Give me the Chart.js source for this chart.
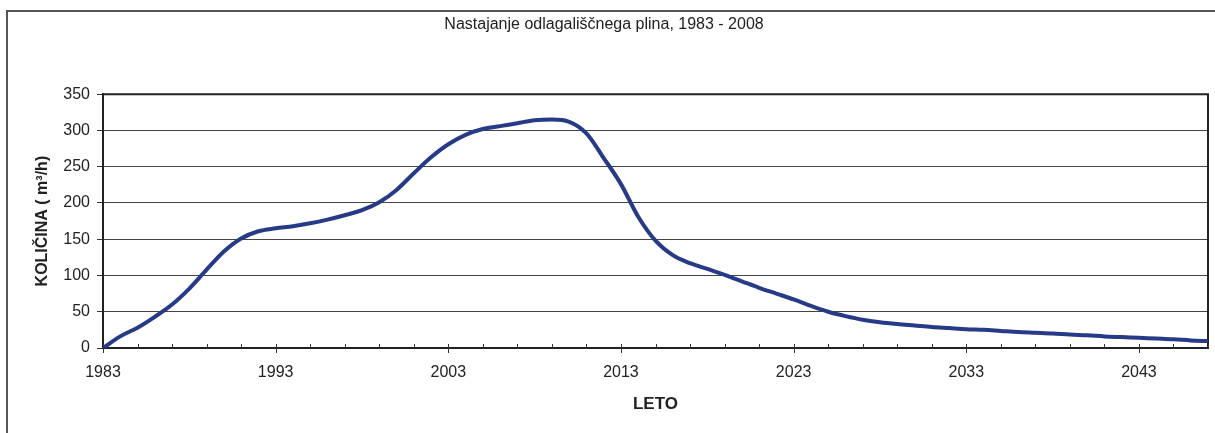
<!DOCTYPE html>
<html>
<head>
<meta charset="utf-8">
<script src="https://cdn.jsdelivr.net/npm/chart.js@4.4.0/dist/chart.umd.min.js"></script>
<style>
  html, body { margin: 0; padding: 0; background: #fff; }
  #wrap { position: relative; width: 1215px; height: 433px; overflow: hidden; }
  #frame { position: absolute; left: 6px; top: 10px; width: 1300px; height: 500px;
           border-left: 2px solid #555; border-top: 2px solid #555; }
  canvas { position: absolute; left: 0; top: 0; }
</style>
</head>
<body>
<div id="wrap">
  <div id="frame"></div>
  <canvas id="mycanvas" width="1215" height="433"></canvas>
</div>
<script>
// leta (x) in kolicina plina (m3/h)
var years = [1983, 1984, 1985, 1986, 1987, 1988, 1989, 1990, 1991, 1992,
             1993, 1994, 1995, 1996, 1997, 1998, 1999, 2000, 2001, 2002,
             2003, 2004, 2005, 2006, 2007, 2008, 2009, 2010, 2011, 2012,
             2013, 2014, 2015, 2016, 2017, 2018, 2019, 2020, 2021, 2022,
             2023, 2024, 2025, 2026, 2027, 2028, 2029, 2030, 2031, 2032,
             2033, 2034, 2035, 2036, 2037, 2038, 2039, 2040, 2041, 2042,
             2043, 2044, 2045, 2046, 2047];
var kolicina = [0, 16, 28, 43, 60, 82, 108, 133, 151, 161,
                165, 168, 172, 177, 183, 190, 201, 218, 241, 263,
                281, 294, 302, 306, 310, 314, 315, 312, 296, 262,
                226, 181, 148, 128, 117, 109, 101, 92, 83, 75,
                67, 58, 50, 44, 39, 35.5, 33, 31, 29, 27.5,
                26, 25, 23.5, 22, 21, 20, 18.5, 17.5, 16, 15,
                14, 13, 12, 10.5, 9.5];
var xLabels = [1983, 1993, 2003, 2013, 2023, 2033, 2043];
var yTicks = [0, 50, 100, 150, 200, 250, 300, 350];

var points = [];
for (var i in years) {
    points.push({ x: years[i], y: kolicina[i] });
}

var fontFam = "'Liberation Sans', Arial, sans-serif";
var textCol = '#222';

// okvir grafa in kljukice na osi x
var framePlugin = {
    id: 'framePlugin',
    beforeDatasetsDraw: function (chart) {
        var ctx = chart.ctx;
        var a = chart.chartArea;
        var xs = chart.scales.x;
        ctx.save();
        ctx.strokeStyle = '#222';
        ctx.lineWidth = 2;
        ctx.beginPath();
        ctx.moveTo(a.left, a.top);
        ctx.lineTo(a.right, a.top);
        ctx.lineTo(a.right, a.bottom);
        ctx.stroke();
        ctx.lineWidth = 1;
        ctx.strokeStyle = '#333';
        for (var v = years[0]; v <= years[years.length - 1]; v += 2) {
            var px = Math.round(xs.getPixelForValue(v)) + 0.5;
            var major = xLabels.indexOf(v) >= 0;
            ctx.beginPath();
            ctx.moveTo(px, a.bottom - 4);
            ctx.lineTo(px, a.bottom + (major ? 5 : 0));
            ctx.stroke();
        }
        ctx.restore();
    }
};

var ctx = document.getElementById('mycanvas');

var lineChart = new Chart(ctx, {
    type: 'line',
    data: {
        datasets: [{
            label: 'Količina',
            data: points,
            borderColor: '#263A87',
            borderWidth: 4,
            pointRadius: 0,
            fill: false,
            cubicInterpolationMode: 'monotone'
        }]
    },
    options: {
        responsive: false,
        animation: false,
        layout: { padding: { left: 0, right: 7, top: 0, bottom: 0 } },
        plugins: {
            legend: { display: false },
            tooltip: { enabled: false },
            title: {
                display: true,
                text: 'Nastajanje odlagališčnega plina, 1983 - 2008',
                color: textCol,
                font: { family: fontFam, size: 16, weight: 'normal' },
                padding: { top: 15, bottom: 60 }
            }
        },
        scales: {
            x: {
                type: 'linear',
                min: 1983,
                max: 2047,
                afterBuildTicks: function (scale) {
                    scale.ticks = xLabels.map(function (v) { return { value: v }; });
                },
                afterFit: function (scale) { scale.height = 85; },
                grid: { display: false, drawTicks: false },
                border: { display: true, color: '#222', width: 2 },
                ticks: {
                    autoSkip: false,
                    maxRotation: 0,
                    padding: 15,
                    color: textCol,
                    font: { family: fontFam, size: 16 },
                    callback: function (v) { return String(v); }
                },
                title: {
                    display: true,
                    text: 'LETO',
                    color: textCol,
                    font: { family: fontFam, size: 17, weight: 'bold' },
                    padding: { top: 0, bottom: 18 }
                }
            },
            y: {
                min: 0,
                max: 350,
                afterBuildTicks: function (scale) {
                    scale.ticks = yTicks.map(function (v) { return { value: v }; });
                },
                afterFit: function (scale) { scale.width = 103; },
                grid: { color: '#444', lineWidth: 1, drawTicks: true, tickLength: 6, tickColor: '#333' },
                border: { display: true, color: '#222', width: 2 },
                ticks: {
                    padding: 7,
                    color: textCol,
                    font: { family: fontFam, size: 16 }
                },
                title: {
                    display: true,
                    text: 'KOLIČINA ( m³/h)',
                    color: textCol,
                    font: { family: fontFam, size: 16, weight: 'bold' },
                    padding: { top: 33, bottom: 0 }
                }
            }
        }
    },
    plugins: [framePlugin]
});
</script>
</body>
</html>
